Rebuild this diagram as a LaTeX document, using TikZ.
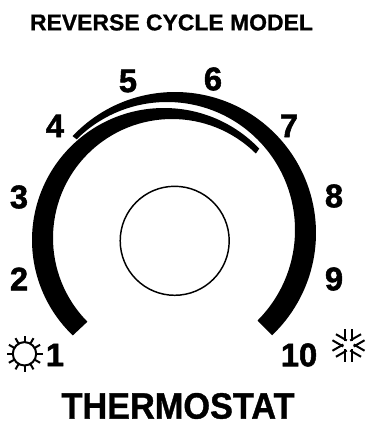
\documentclass[tikz,border=0pt]{standalone}
\usepackage{fontspec}
\setmainfont{Liberation Sans}[BoldFeatures={FakeBold=0.8}]
\newfontfamily\namefont{Liberation Sans}[BoldFeatures={FakeBold=1,FakeStretch=0.935}]
\newfontfamily\dialfont{Liberation Sans}[BoldFeatures={FakeBold=1.6}]
\usepackage{tikz}
\usetikzlibrary{calc}
\tikzset{
  dial/.style={font=\dialfont\fontsize{24.5}{24}\selectfont\bfseries,inner sep=0pt},
  icon/.style={line width=1.5pt,line cap=butt}
}
\begin{document}
\begin{tikzpicture}[x=0.75pt,y=0.75pt]
\useasboundingbox (0,0) rectangle (368,425);
\node[font=\fontsize{17.2}{17}\selectfont\bfseries,inner sep=0pt] (title) at (171.5,402.5) {REVERSE CYCLE MODEL};
% two tapered bands
\fill ($(175,192)+(136.6:141)$) arc[start angle=136.6,end angle=-46.5,radius=141]
  -- ($(167,195)+(-45:128)$) arc[start angle=-45,end angle=134.9,radius=128] -- cycle;
\fill ($(164,185)+(43.8:132)$) arc[start angle=43.8,end angle=226.3,radius=132]
  -- ($(172,187)+(224.7:119)$) arc[start angle=224.7,end angle=45.2,radius=119] -- cycle;
\draw[line width=1.1pt] (174.7,184.2) circle[radius=54.5];
\node[dial] (d1) at (55,70) {1};
\node[dial] (d2) at (19,146) {2};
\node[dial] (d3) at (19,228) {3};
\node[dial] (d4) at (55,299) {4};
\node[dial] (d5) at (128,344) {5};
\node[dial] (d6) at (213,346) {6};
\node[dial] (d7) at (289,299) {7};
\node[dial] (d8) at (334,229) {8};
\node[dial] (d9) at (334,146) {9};
\node[dial] (d10) at (299,70) {10};
% sun
\draw[icon] (24.5,71.2) circle[radius=11.7];
\foreach \a in {0,30,...,330}
  \draw[icon] ($(24.5,71.2)+(\a:11.7)$) -- ($(24.5,71.2)+(\a:18)$);
% snow
\foreach \a in {30,90,150,210,270,330}
  \draw[icon,shift={(348.5,79.5)},rotate=\a] (4,-3.5) -- (16.5,-3.5) (4,3.5) -- (16.5,3.5);
\node[font=\namefont\fontsize{27.5}{27}\selectfont\bfseries,inner sep=0pt] (name) at (178,19) {THERMOSTAT};
\end{tikzpicture}
\end{document}
